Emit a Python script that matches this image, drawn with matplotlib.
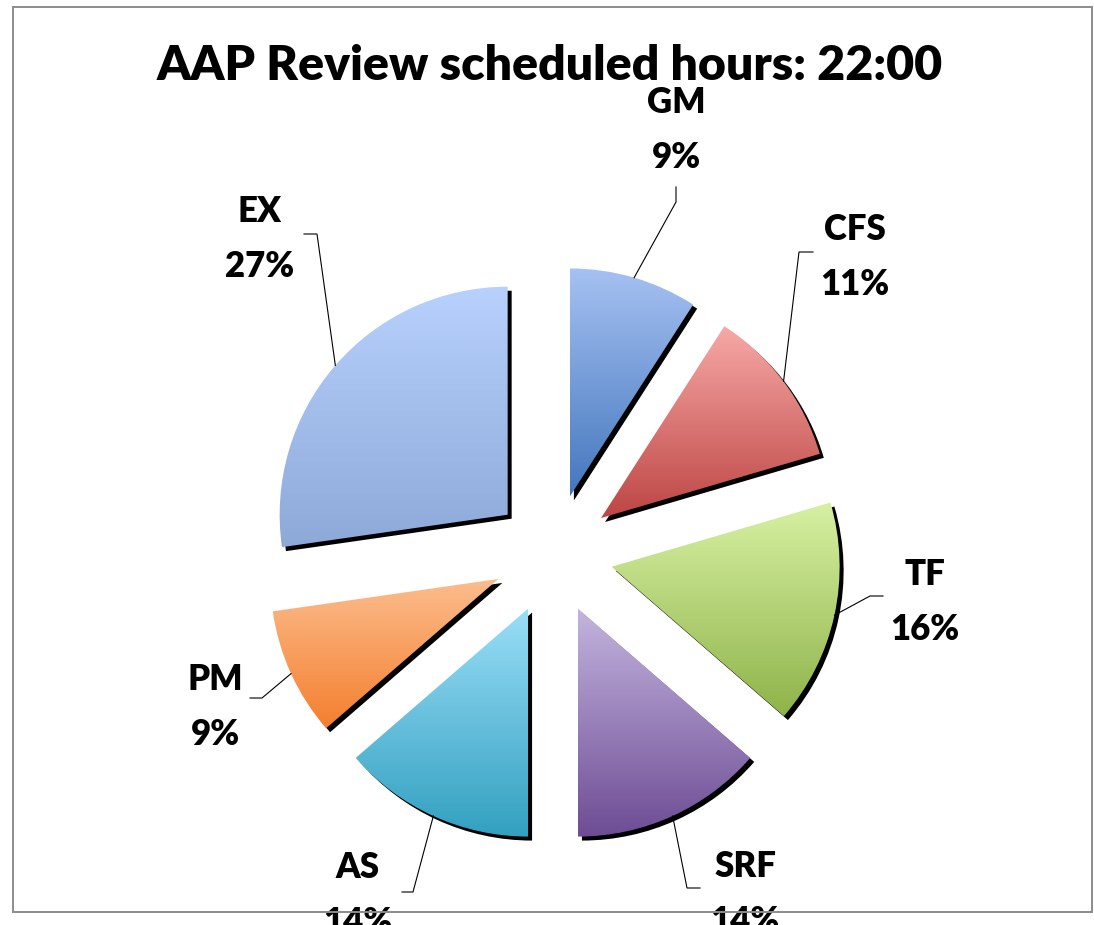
import numpy as np
import matplotlib
matplotlib.use('Agg')
import matplotlib.pyplot as plt
from matplotlib.colors import to_rgb
from matplotlib.patches import Wedge, Rectangle

W, H = 1094, 925

# ---- data ----
title = "AAP Review scheduled hours: 22:00"
categories = ['GM', 'CFS', 'TF', 'SRF', 'AS', 'PM', 'EX']
hours = [2.0, 2.5, 3.5, 3.0, 3.0, 2.0, 6.0]

# ---- style ----
top_colors = ['#a6c1f2', '#f7a9a7', '#d7f1a3', '#c3b4de', '#9adef7', '#fcbd8e', '#b8d1fd']
bottom_colors = ['#4477bd', '#bd4644', '#8fb34a', '#6d4c94', '#32a0c0', '#f47f2e', '#8da9d8']

FONT = ['Lato', 'DejaVu Sans']
WEIGHT = 'heavy'

fig = plt.figure(figsize=(W / 100, H / 100), dpi=100)
ax = fig.add_axes([0, 0, 1, 1])


def S(x, y):
    """screen pixel (y down) -> data (y up)"""
    return (x, H - y)


center = S(553, 554)
R = 228
EXPL = 60

wedges, _ = ax.pie(hours, radius=R, center=center, explode=[EXPL] * len(hours),
                   startangle=90, counterclock=False, frame=False,
                   wedgeprops=dict(linewidth=0))
ax.set_xlim(0, W)
ax.set_ylim(0, H)
ax.set_aspect('auto')
ax.axis('off')

# shadows + gradients
for i, w in enumerate(wedges):
    cx, cy = w.center
    sh = Wedge((cx + 4, cy - 4), w.r, w.theta1, w.theta2, facecolor='black',
               edgecolor='none', zorder=1)
    ax.add_patch(sh)
    w.set_facecolor('none')
    w.set_zorder(2)
    v = w.get_path().vertices
    x0, x1 = v[:, 0].min(), v[:, 0].max()
    y0, y1 = v[:, 1].min(), v[:, 1].max()
    n = 256
    t = np.linspace(0, 1, n)[:, None]
    c0 = np.array(to_rgb(top_colors[i]))
    c1 = np.array(to_rgb(bottom_colors[i]))
    grad = (c0[None, :] * (1 - t) + c1[None, :] * t)[:, None, :]
    im = ax.imshow(grad, extent=(x0, x1, y0, y1), origin='upper', aspect='auto',
                   interpolation='bilinear', zorder=2)
    im.set_clip_path(w)

# labels & leader lines (layout in screen px)
name_baselines = [(676, 113), (855, 240), (925, 585), (745, 877), (358, 878), (215, 690), (260, 222)]
pct_gap = 55
elbows = [(676, 202), (799, 252), (870, 596), (687, 888), (413, 892), (262, 698), (317, 234)]
ends = [(676, 187), (813, 252), (883, 596), (700, 888), (402, 892), (250, 698), (304, 234)]

total = sum(hours)
for i, w in enumerate(wedges):
    cx, cy = w.center
    tm = np.deg2rad(0.5 * (w.theta1 + w.theta2))
    px, py = cx + w.r * np.cos(tm), cy + w.r * np.sin(tm)
    ex, ey = S(*elbows[i])
    qx, qy = S(*ends[i])
    ax.plot([px, ex, qx], [py, ey, qy], color='black', lw=0.8, zorder=3,
            solid_joinstyle='miter')
    bx, by = name_baselines[i]
    pct = int(round(hours[i] / total * 100))
    ax.text(*S(bx, by), categories[i], ha='center', va='baseline', fontsize=25,
            fontweight=WEIGHT, family=FONT, color='black', zorder=4)
    ax.text(*S(bx, by + pct_gap), f"{pct}%", ha='center', va='baseline', fontsize=25,
            fontweight=WEIGHT, family=FONT, color='black', zorder=4)

# title, fitted to the reference width
tt = ax.text(*S(550, 80), title, ha='center', va='baseline', fontsize=30,
             fontweight=WEIGHT, family=FONT, color='black', zorder=4)
fig.canvas.draw()
bb = tt.get_window_extent(fig.canvas.get_renderer())
tt.set_fontsize(30 * 787 / bb.width)

# chart border
bx0, by0 = S(13, 912)
ax.add_patch(Rectangle((bx0, by0), 1092 - 13, 912 - 7, facecolor='none',
                       edgecolor='#8c8c8c', lw=1.4, zorder=5))

fig.savefig('out.png', dpi=100)
